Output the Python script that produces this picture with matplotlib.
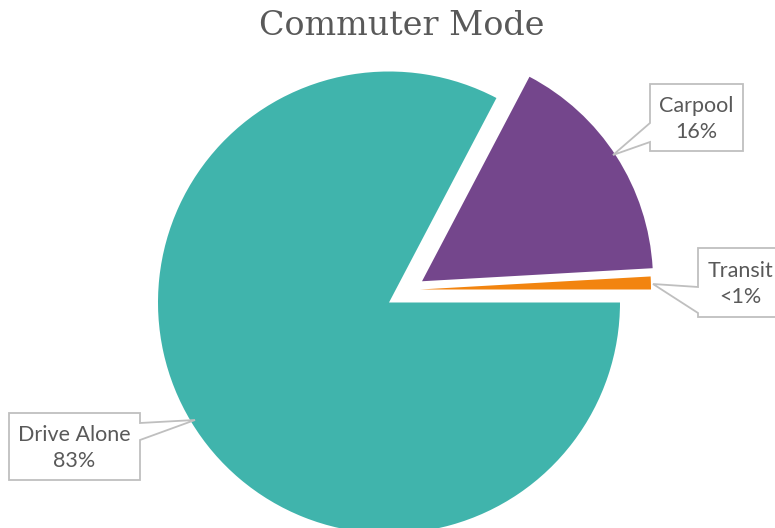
import matplotlib
matplotlib.use('Agg')
import matplotlib.pyplot as plt
from matplotlib.patches import Polygon

# data
categories = ['Transit', 'Carpool', 'Drive Alone']
shares = [0.9, 16.4, 82.7]
pct_labels = ['<1%', '16%', '83%']
colors = ['#F2840F', '#74468C', '#40B4AC']

W, H = 775, 528
fig = plt.figure(figsize=(W / 100, H / 100), dpi=100)
ax = fig.add_axes([0, 0, 1, 1])

def py(y):  # picture y (top down) -> axes y
    return H - y

cx, cy, r = 389, py(302.5), 231
# explode is in data units here (1 unit = 1 px)
wedges, _ = ax.pie(shares, colors=colors, startangle=0, counterclock=True,
                   radius=r, center=(cx, cy), explode=[0, 0.17 * r, 0],
                   wedgeprops=dict(linewidth=0))
# transit slice is pulled out a bit up and to the right
wedges[0].set_center((cx + 31, cy + 13))

ax.set_xlim(0, W)
ax.set_ylim(0, H)
ax.set_aspect('equal')
ax.axis('off')

# callout boxes: (left, top, right, bottom), side of pointer, pointer base, tip
callouts = {
    'Carpool': dict(box=(650, 84, 743, 151), side='left', base=(123, 142), tip=(613, 155)),
    'Transit': dict(box=(698, 248, 783, 317), side='left', base=(287, 313), tip=(653, 284)),
    'Drive Alone': dict(box=(9, 413, 140, 480), side='right', base=(423, 440), tip=(195, 420)),
}

for name, pct in zip(categories, pct_labels):
    c = callouts[name]
    l, t, rr, b = c['box']
    b0, b1 = c['base']
    tx, ty = c['tip']
    if c['side'] == 'left':
        pts = [(l, t), (rr, t), (rr, b), (l, b), (l, b1), (tx, ty), (l, b0)]
    else:
        pts = [(l, t), (rr, t), (rr, b0), (tx, ty), (rr, b1), (rr, b), (l, b)]
    pts = [(x, py(y)) for x, y in pts]
    ax.add_patch(Polygon(pts, closed=True, facecolor='white', edgecolor='#BFBFBF',
                         linewidth=1.3, zorder=3))
    ax.text((l + rr) / 2, py((t + b) / 2 + 1.5), name + '\n' + pct, ha='center', va='center',
            fontsize=15.5, family=['Lato', 'DejaVu Sans'], color='#595959',
            linespacing=1.35, zorder=4)

ax.text(402, py(35), 'Commuter Mode', ha='center', va='baseline', fontsize=24,
        family='DejaVu Serif', color='#595959')

fig.savefig('out.png', dpi=100)
